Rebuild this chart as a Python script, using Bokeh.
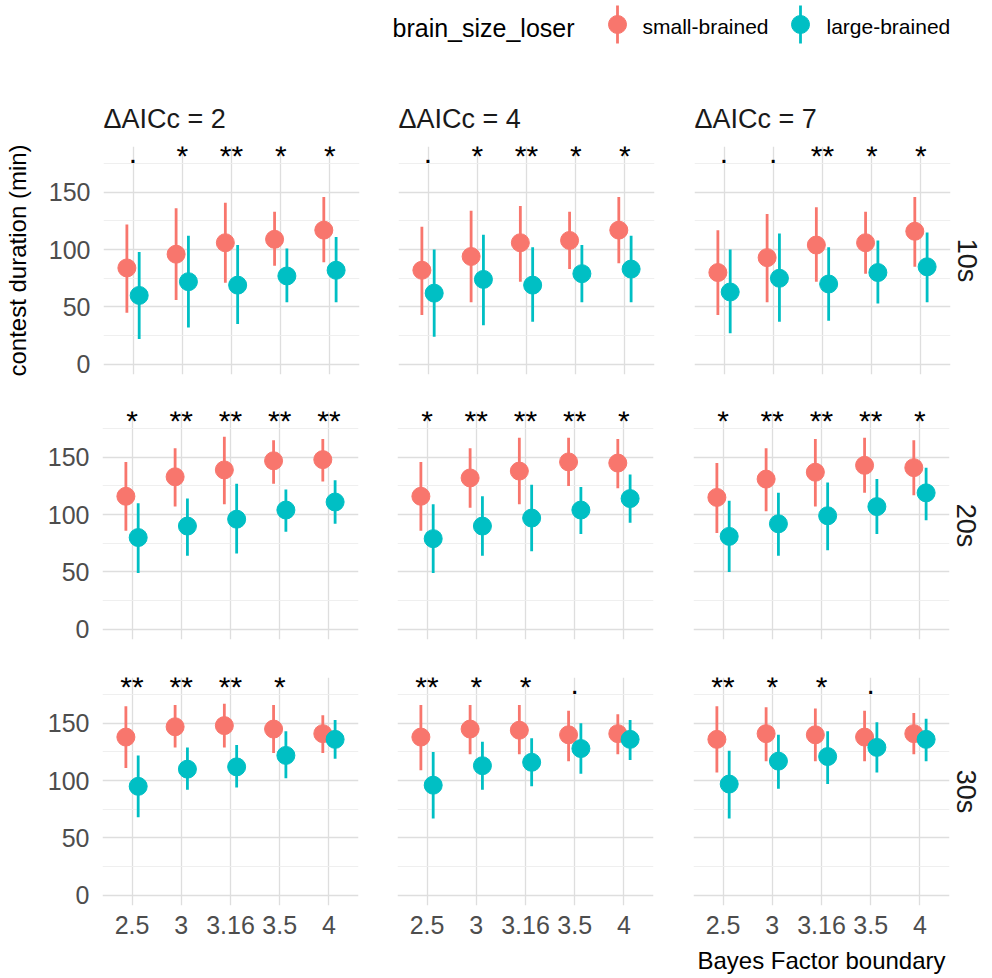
from bokeh.plotting import figure
from bokeh.layouts import column, row
from bokeh.models import Range1d, FixedTicker, Title, LinearAxis, Grid
from bokeh.embed import file_html
from bokeh.resources import INLINE
from bokeh.core.properties import value

# ---------------- data ----------------
bf_labels = ["2.5", "3", "3.16", "3.5", "4"]
aic_labels = ["ΔAICc = 2", "ΔAICc = 4", "ΔAICc = 7"]
duration_labels = ["10s", "20s", "30s"]
series_labels = ["small-brained", "large-brained"]
legend_title = "brain_size_loser"
x_title = "Bayes Factor boundary"
y_title = "contest duration (min)"
y_ticks = [0, 50, 100, 150]
y_minor = [25, 75, 125, 175]

# each list: [ΔAICc=2 panel, ΔAICc=4 panel, ΔAICc=7 panel], 5 values per BF boundary
small_mean_10s = [[84, 96, 106, 109, 117], [82, 94, 106, 108, 117], [80, 93, 104, 106, 116]]
small_lo_10s = [[45, 56, 71, 86, 89], [43, 54, 72, 83, 88], [43, 54, 72, 79, 85]]
small_hi_10s = [[122, 136, 141, 133, 146], [120, 134, 138, 133, 146], [117, 131, 137, 133, 146]]
large_mean_10s = [[60, 72, 69, 77, 82], [62, 74, 69, 79, 83], [63, 75, 70, 80, 85]]
large_lo_10s = [[22, 32, 35, 54, 54], [24, 34, 37, 54, 54], [27, 37, 38, 53, 54]]
large_hi_10s = [[98, 112, 104, 101, 111], [100, 113, 102, 104, 112], [100, 114, 102, 108, 115]]
sig_10s = [[".", "*", "**", "*", "*"], [".", "*", "**", "*", "*"], [".", ".", "**", "*", "*"]]

small_mean_20s = [[116, 133, 139, 147, 148], [116, 132, 138, 146, 145], [115, 131, 137, 143, 141]]
small_lo_20s = [[86, 107, 109, 127, 129], [86, 106, 109, 125, 123], [84, 103, 107, 119, 117]]
small_hi_20s = [[146, 158, 168, 165, 166], [146, 158, 167, 167, 166], [145, 158, 166, 167, 165]]
large_mean_20s = [[80, 90, 96, 104, 111], [79, 90, 97, 104, 114], [81, 92, 99, 107, 119]]
large_lo_20s = [[49, 64, 66, 85, 92], [49, 64, 68, 83, 93], [50, 64, 69, 83, 95]]
large_hi_20s = [[110, 114, 127, 122, 130], [109, 116, 126, 124, 135], [112, 119, 128, 131, 141]]
sig_20s = [["*", "**", "**", "**", "**"], ["*", "**", "**", "**", "*"], ["*", "**", "**", "**", "*"]]

small_mean_30s = [[138, 147, 148, 145, 141], [138, 145, 144, 140, 141], [136, 141, 140, 138, 141]]
small_lo_30s = [[111, 129, 129, 124, 124], [109, 123, 123, 117, 123], [107, 117, 117, 117, 123]]
small_hi_30s = [[165, 166, 167, 166, 157], [166, 166, 166, 161, 158], [165, 164, 163, 161, 159]]
large_mean_30s = [[95, 110, 112, 122, 136], [96, 113, 116, 128, 136], [97, 117, 121, 129, 136]]
large_lo_30s = [[68, 92, 94, 102, 119], [67, 92, 95, 106, 118], [67, 93, 97, 107, 117]]
large_hi_30s = [[122, 129, 131, 143, 153], [125, 134, 137, 150, 153], [126, 140, 143, 151, 154]]
sig_30s = [["**", "**", "**", "*", ""], ["**", "*", "*", ".", ""], ["**", "*", "*", ".", ""]]

sig_y = 179

rows_data = [
    (small_mean_10s, small_lo_10s, small_hi_10s, large_mean_10s, large_lo_10s, large_hi_10s, sig_10s),
    (small_mean_20s, small_lo_20s, small_hi_20s, large_mean_20s, large_lo_20s, large_hi_20s, sig_20s),
    (small_mean_30s, small_lo_30s, small_hi_30s, large_mean_30s, large_lo_30s, large_hi_30s, sig_30s),
]

# ---------------- style ----------------
RED = "#F8766D"
TEAL = "#00BFC4"
FONT = "Liberation Sans"
GRID_MAJOR = "#DEDEDE"
GRID_MINOR = "#EDEDED"
TICK_COL = "#4D4D4D"
STRIP_COL = "#1A1A1A"
DODGE = 0.125

FRAME_W, FRAME_H = 256, 228
LB = [102, 19, 20]
RB = [20, 20, 43]
TB = [86, 19, 19]
BB = [18, 19, 72]
LEG_H = 60


def make_panel(r, c):
    sm, slo, shi, lm, llo, lhi, sig = [d[c] for d in rows_data[r]]
    p = figure(frame_width=FRAME_W, frame_height=FRAME_H,
               x_range=Range1d(0.4, 5.6), y_range=Range1d(-9, 190),
               x_axis_type=None, y_axis_type=None,
               toolbar_location=None, tools="", output_backend="svg",
               min_border_left=LB[c], min_border_right=RB[c],
               min_border_top=TB[r], min_border_bottom=BB[r],
               outline_line_color=None, background_fill_color="white",
               border_fill_color="white")
    xs = list(range(1, len(bf_labels) + 1))
    p.add_layout(Grid(dimension=0, ticker=FixedTicker(ticks=xs),
                      grid_line_color=GRID_MAJOR, grid_line_width=1.3))
    p.add_layout(Grid(dimension=1, ticker=FixedTicker(ticks=y_ticks, minor_ticks=y_minor),
                      grid_line_color=GRID_MAJOR, grid_line_width=1.3,
                      minor_grid_line_color=GRID_MINOR, minor_grid_line_width=0.9))

    xs_small = [x - DODGE for x in xs]
    xs_large = [x + DODGE for x in xs]
    p.segment(x0=xs_small, y0=slo, x1=xs_small, y1=shi, line_color=RED, line_width=2.8)
    p.scatter(x=xs_small, y=sm, size=18, fill_color=RED, line_color=RED)
    p.segment(x0=xs_large, y0=llo, x1=xs_large, y1=lhi, line_color=TEAL, line_width=2.8)
    p.scatter(x=xs_large, y=lm, size=18, fill_color=TEAL, line_color=TEAL)

    stars = [s if "*" in s else "" for s in sig]
    dots = [s if "*" not in s else "" for s in sig]
    p.text(x=xs, y=[sig_y] * len(xs), text=stars, text_font=value(FONT),
           text_font_size="30px", text_align="center", text_baseline="middle",
           text_color="black", y_offset=-4)
    p.text(x=xs, y=[sig_y] * len(xs), text=dots, text_font=value(FONT),
           text_font_size="30px", text_align="center", text_baseline="middle",
           text_color="black", y_offset=-6)

    if c == 0:
        ax = LinearAxis(ticker=FixedTicker(ticks=y_ticks, minor_ticks=[]),
                        major_tick_line_color=None, minor_tick_line_color=None,
                        axis_line_color=None, major_label_standoff=7,
                        major_label_text_font=FONT, major_label_text_font_size="25px",
                        major_label_text_color=TICK_COL)
        if r == 0:
            ax.axis_label = y_title
            ax.axis_label_text_font = FONT
            ax.axis_label_text_font_size = "24px"
            ax.axis_label_text_font_style = "normal"
            ax.axis_label_text_color = "black"
            ax.axis_label_standoff = 15
        p.add_layout(ax, "left")
    if r == 2:
        ax = LinearAxis(ticker=FixedTicker(ticks=xs, minor_ticks=[]),
                        major_label_overrides={x: lab for x, lab in zip(xs, bf_labels)},
                        major_tick_line_color=None, minor_tick_line_color=None,
                        axis_line_color=None, major_label_standoff=4,
                        major_label_text_font=FONT, major_label_text_font_size="25px",
                        major_label_text_color=TICK_COL)
        if c == 2:
            ax.axis_label = x_title
            ax.axis_label_text_font = FONT
            ax.axis_label_text_font_size = "24px"
            ax.axis_label_text_font_style = "normal"
            ax.axis_label_text_color = "black"
            ax.axis_label_standoff = 10
        p.add_layout(ax, "below")
    if r == 0:
        t = Title(text=aic_labels[c], align="left", text_font=FONT,
                  text_font_size="27px", text_font_style="normal",
                  text_color=STRIP_COL, standoff=26)
        p.add_layout(t, "above")
    if c == 2:
        t = Title(text=duration_labels[r], align="center", text_font=FONT,
                  text_font_size="27px", text_font_style="normal",
                  text_color=STRIP_COL, standoff=3)
        p.add_layout(t, "right")
    return p


panels = [[make_panel(r, c) for c in range(3)] for r in range(3)]

# ---------------- legend ----------------
TOTAL_W = sum(LB) + sum(RB) + 3 * FRAME_W
leg = figure(width=TOTAL_W, height=LEG_H, x_range=Range1d(0, TOTAL_W), y_range=Range1d(LEG_H, 0),
             x_axis_type=None, y_axis_type=None, toolbar_location=None, tools="",
             output_backend="svg", min_border=0, outline_line_color=None)
LEG_KEY_Y = 24
LEG_TEXT_Y = 27
leg.text(x=[392], y=[LEG_TEXT_Y], text=[legend_title], text_font=value(FONT),
         text_font_size="25px", text_baseline="middle", text_align="left", text_color="black")
for key_x, lab_x, colr, lab in zip([617, 800], [642, 826], [RED, TEAL], series_labels):
    leg.segment(x0=[key_x], y0=[LEG_KEY_Y - 19], x1=[key_x], y1=[LEG_KEY_Y + 19],
                line_color=colr, line_width=2.8)
    leg.scatter(x=[key_x], y=[LEG_KEY_Y], size=18, fill_color=colr, line_color=colr)
    leg.text(x=[lab_x], y=[LEG_TEXT_Y - 1], text=[lab], text_font=value(FONT),
             text_font_size="21px", text_baseline="middle", text_align="left", text_color="black")

layout = column(leg, row(*panels[0]), row(*panels[1]), row(*panels[2]))
open("out.html", "w").write(file_html(layout, INLINE))
